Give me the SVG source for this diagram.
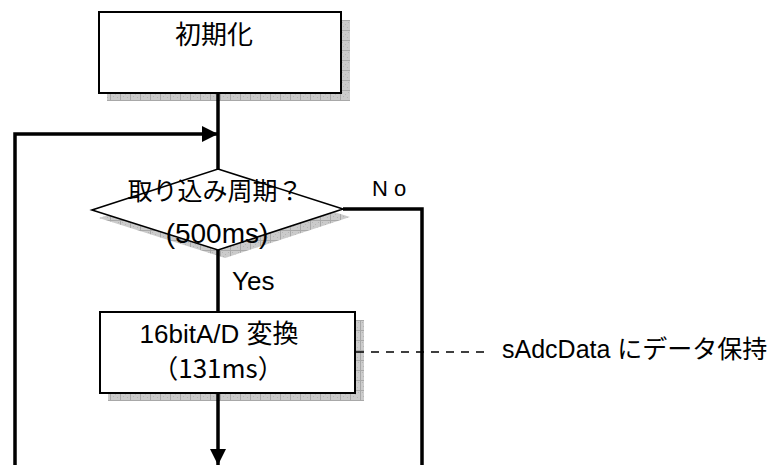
<svg xmlns="http://www.w3.org/2000/svg" width="773" height="465" viewBox="0 0 773 465">
<defs>
<pattern id="hatch" width="10" height="10" patternUnits="userSpaceOnUse">
<rect width="10" height="10" fill="#cbcbcb"/>
<path d="M0 0.5H10M0.5 0V10" stroke="#a8a8a8" stroke-width="1"/>
<path d="M2 2h1v1h-1zM5 4h1v1h-1zM7 7h1v1h-1zM3 6h1v1h-1zM8 2h1v1h-1z" fill="#b4b4b4"/>
</pattern>
<marker id="arr" viewBox="0 0 16 16" refX="16" refY="8" markerWidth="16" markerHeight="16" markerUnits="userSpaceOnUse" orient="auto">
<path d="M0 0L16 8L0 16Z" fill="#000"/>
</marker>
</defs>
<style>
.shadow{fill:url(#hatch);}
.box{fill:#fff;stroke:#000;stroke-width:2;}
.dia{fill:#fff;stroke:#000;stroke-width:1.6;}
.flow{fill:none;stroke:#000;stroke-width:3.5;}
.dash{fill:none;stroke:#000;stroke-width:1.3;stroke-dasharray:8 7;}
.t{font-family:"Liberation Sans","Noto Sans CJK JP",sans-serif;fill:#000;}
.j{font-family:"Noto Sans CJK JP","Liberation Sans",sans-serif;fill:#000;}
</style>
<rect width="773" height="465" fill="#fff"/>
<g id="init">
<rect class="shadow" x="107" y="20" width="243" height="81"/>
<rect class="box" x="99" y="12" width="242" height="81"/>
<text class="j" x="214" y="44" font-size="26" text-anchor="middle">初期化</text>
</g>
<g id="decision">
<polygon class="shadow" points="225,177 350,217 225,258 99,218"/>
<polygon class="dia" points="218,169 343,209 218,250 92,210"/>
<text class="j" x="215" y="200" font-size="25" text-anchor="middle">取り込み周期？</text>
<text class="t" x="217" y="243" font-size="28" text-anchor="middle">(500ms)</text>
</g>
<g id="adc">
<rect class="shadow" x="108" y="320" width="256" height="81"/>
<rect class="box" x="100" y="312" width="255" height="81"/>
<text class="t" x="219" y="343" font-size="26" text-anchor="middle">16bitA/D 変換</text>
<text class="j" x="218" y="378" font-size="26" text-anchor="middle">（131ms）</text>
</g>
<g id="labels">
<text class="t" x="372" y="196" font-size="22">N o</text>
<text class="t" x="232" y="290" font-size="26">Yes</text>
<text class="t" x="502" y="358" font-size="25">sAdcData にデータ保持</text>
</g>
<g id="connectors">
<line class="flow" x1="218" y1="93" x2="218" y2="169"/>
<polyline class="flow" points="15,465 15,134 218,134" marker-end="url(#arr)"/>
<line class="flow" x1="218" y1="250" x2="218" y2="312"/>
<line class="flow" x1="218" y1="393" x2="218" y2="465" marker-end="url(#arr)"/>
<polyline class="flow" points="343,209 422,209 422,465"/>
<line class="dash" x1="356" y1="352" x2="490" y2="352"/>
</g>
</svg>
